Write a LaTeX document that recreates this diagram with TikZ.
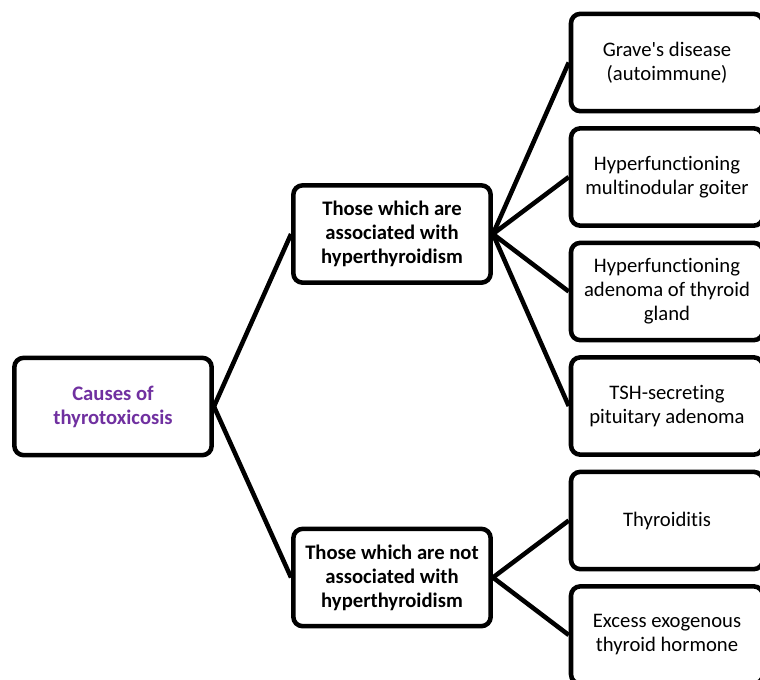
\documentclass[tikz,border=0pt]{standalone}
\usepackage{fontspec}
\setmainfont{Carlito}[Ligatures={NoCommon}]
\definecolor{causepurple}{HTML}{7030A0}

\begin{document}
\begin{tikzpicture}[x=0.75pt, y=-0.75pt, align=center,
  box/.style={draw, line width=3.4pt, rounded corners=7pt, minimum width=144pt, minimum height=73pt, inner sep=2pt, font=\fontsize{15.5}{18}\selectfont},
  head/.style={box, minimum width=148pt, font=\fontsize{15.5}{18}\selectfont\bfseries},
  link/.style={line width=3.4pt}]
\useasboundingbox (0,0) rectangle (760,679);
\clip (0,0) rectangle (760,679);

\path (113, 406.5) node[head, text=causepurple] (c0) {Causes of\\thyrotoxicosis}
	  (392, 234) node[head] (h1) {Those which are\\associated with\\hyperthyroidism}
	  (392, 577.5) node[head] (h2) {Those which are not\\associated with\\hyperthyroidism}

	  (667, 62.5) node[box] (r1) {Grave\textquotesingle s disease\\(autoimmune)}
	  (667, 177) node[box] (r2) {Hyperfunctioning\\multinodular goiter}
	  (667, 291.5) node[box] (r3) {Hyperfunctioning\\adenoma of thyroid\\gland}
	  (667, 406) node[box] (r4) {TSH-secreting\\pituitary adenoma}
	  (667, 520.5) node[box] (r5) {Thyroiditis}
	  (667, 635) node[box] (r6) {Excess exogenous\\thyroid hormone};

\draw[link] (c0.east) -- (h1.west);
\draw[link] (c0.east) -- (h2.west);
\draw[link] (h1.east) -- (r1.west);
\draw[link] (h1.east) -- (r2.west);
\draw[link] (h1.east) -- (r3.west);
\draw[link] (h1.east) -- (r4.west);
\draw[link] (h2.east) -- (r5.west);
\draw[link] (h2.east) -- (r6.west);
\end{tikzpicture}
\end{document}
